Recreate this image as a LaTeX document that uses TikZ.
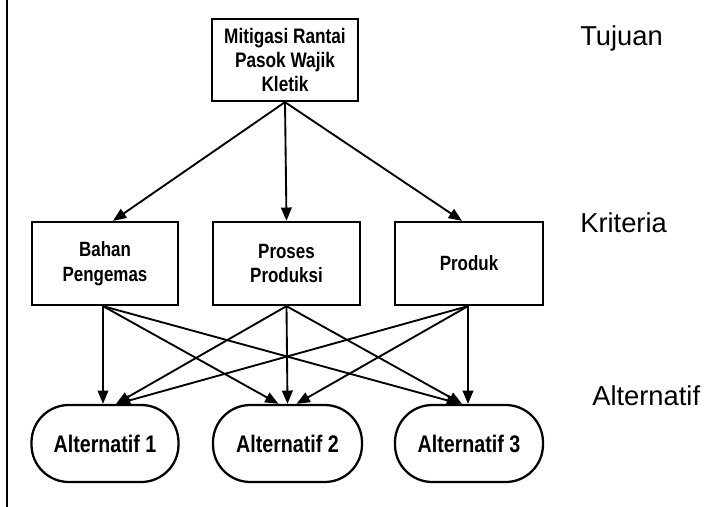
\documentclass[tikz,border=0pt]{standalone}
\usepackage{fontspec}
\setmainfont{Liberation Sans}
\newfontfamily\narrowbf[FakeStretch=0.82,BoldFont={* Bold}]{Liberation Sans}
\usetikzlibrary{arrows.meta,calc}
\begin{document}
\begin{tikzpicture}[x=0.75pt,y=-0.75pt,
  boxstyle/.style={draw,line width=1.7pt,rectangle,inner sep=0pt,align=center,
    font=\narrowbf\bfseries},
  critstyle/.style={boxstyle,minimum height=83*0.75pt,
    font=\narrowbf\bfseries\fontsize{15.5}{18.5}\selectfont},
  altstyle/.style={draw,line width=1.7pt,rectangle,rounded corners=28pt,inner sep=0pt,
    minimum width=147*0.75pt,minimum height=77*0.75pt,
    font=\narrowbf\bfseries\fontsize{18}{21}\selectfont},
  conn/.style={line width=1.4pt,-{Triangle[length=10pt,width=8pt]}},
  levellabel/.style={anchor=base west,inner sep=0pt,font=\fontsize{20.5}{24}\selectfont}]
\useasboundingbox (0,0) rectangle (715,507);
\coordinate (lt) at (7,0);
\coordinate (lb) at (7,507);
\draw[line width=1.2pt] (lt) -- (lb);

\node[boxstyle,minimum width=146*0.75pt,minimum height=82*0.75pt,
  font=\narrowbf\bfseries\fontsize{15.75}{18}\selectfont] (goal) at (285,60)
  {Mitigasi Rantai\\Pasok Wajik\\Kletik};

\node[critstyle,minimum width=146*0.75pt] (c1) at (105,263.5) {Bahan\\Pengemas};
\node[critstyle,minimum width=147*0.75pt] (c2) at (286.5,263.5) {Proses\\Produksi};
\node[critstyle,minimum width=148*0.75pt] (c3) at (469,263.5) {Produk};

\node[altstyle] (a1) at (105,443.5) {Alternatif 1};
\node[altstyle,minimum width=149*0.75pt] (a2) at (287.5,443.5) {Alternatif 2};
\node[altstyle,minimum width=148*0.75pt] (a3) at (469,443.5) {Alternatif 3};

\draw[conn] (goal.south) -- ($(c1.north)+(8,0)$);
\draw[conn] (goal.south) -- (c2.north);
\draw[conn] (goal.south) -- ($(c3.north)+(-7,0)$);

\draw[conn] ($(c1.south)+(-2,0)$) -- ($(a1.north)+(-2,0)$);
\draw[conn] ($(c1.south)+(-2,0)$) -- ($(a2.north)+(-9,0)$);
\draw[conn] ($(c1.south)+(-2,0)$) -- ($(a3.north)+(-9,0)$);
\draw[conn] (c2.south) -- ($(a1.north)+(11,0)$);
\draw[conn] (c2.south) -- (a2.north);
\draw[conn] (c2.south) -- ($(a3.north)+(-7,0)$);
\draw[conn] ($(c3.south)+(-1,0)$) -- ($(a1.north)+(12,0)$);
\draw[conn] ($(c3.south)+(-1,0)$) -- ($(a2.north)+(9,0)$);
\draw[conn] ($(c3.south)+(-1,0)$) -- ($(a3.north)+(-1,0)$);

\node[levellabel] (lg) at (580,45) {Tujuan};
\node[levellabel] (lc) at (580,232) {Kriteria};
\node[levellabel] (la) at (592,405) {Alternatif};
\end{tikzpicture}
\end{document}
